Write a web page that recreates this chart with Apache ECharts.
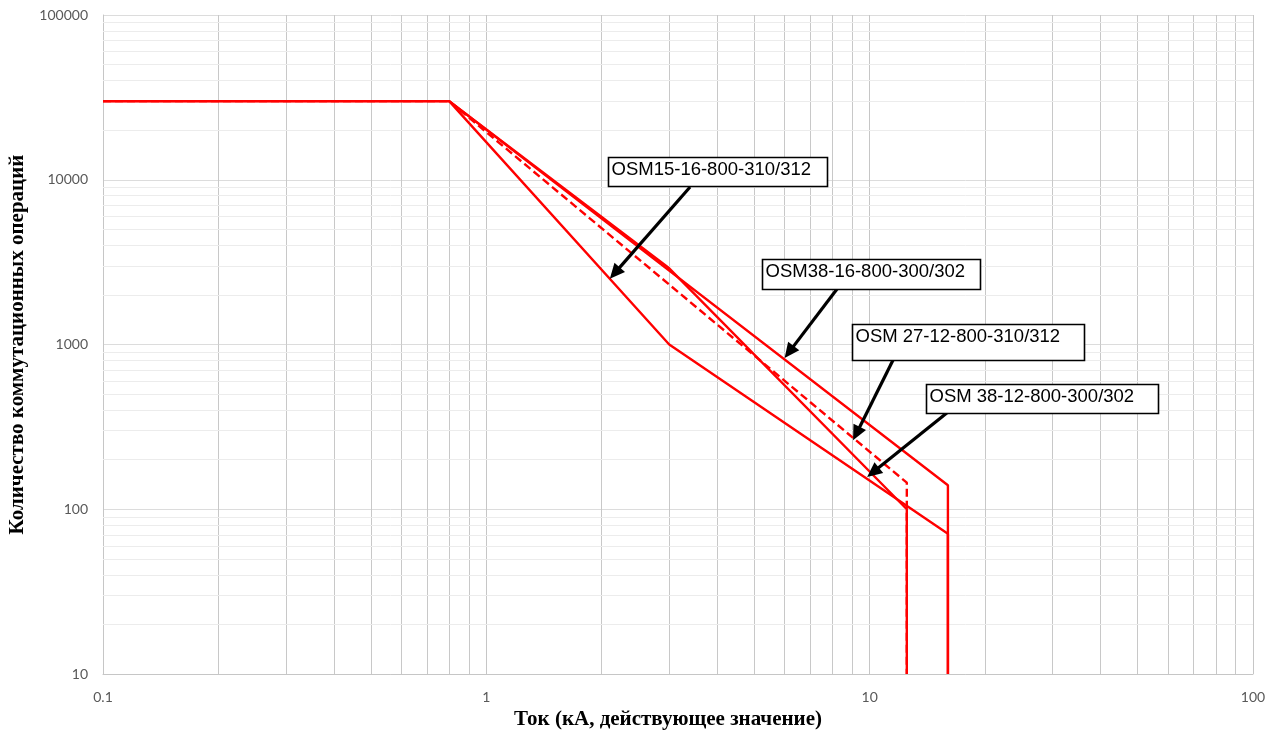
<!DOCTYPE html>
<html>
<head>
<meta charset="utf-8">
<script src="https://cdn.jsdelivr.net/npm/echarts@6/dist/echarts.min.js"></script>
<style>
html,body{margin:0;padding:0;background:#fff;}
#c{width:1278px;height:733px;}
</style>
</head>
<body>
<div id="c"></div>
<script>
// ---- data ----
const xTitle = 'Ток (кА, действующее значение)';
const yTitle = 'Количество коммутационных операций';

const osm15_16_x = [0.1, 0.8, 3, 16, 16];
const osm15_16_y = [30000, 30000, 1000, 71, 10];

const osm38_16_x = [0.1, 0.8, 16, 16];
const osm38_16_y = [30000, 30000, 140, 10];

const osm27_12_x = [0.1, 0.8, 12.5, 12.5];
const osm27_12_y = [30000, 30000, 145, 10];

const osm38_12_x = [0.1, 0.8, 3, 12.5, 12.5];
const osm38_12_y = [30000, 30000, 2900, 100, 10];

// annotation labels: text, arrow tip [x,y], arrow tail [x,y]
const annTexts = ['OSM15-16-800-310/312', 'OSM38-16-800-300/302', 'OSM 27-12-800-310/312', 'OSM 38-12-800-300/302'];
const annTips = [[2.1, 2510], [6, 828], [9.05, 262], [9.85, 157]];
const annTails = [[3.40, 9040], [8.22, 2173], [11.51, 805], [16.01, 389]];

const xMinorMultipliers = [2, 3, 4, 5, 6, 7, 8, 9];
const xDecades = [0.1, 1, 10];
const yDecades = [10, 100, 1000, 10000];

// ---- build ----
function pairs(xs, ys){ return xs.map((x,i)=>[x, ys[i]]); }
const xMinor = [], yMinor = [];
xDecades.forEach(d => xMinorMultipliers.forEach(m => xMinor.push(Number((d*m).toPrecision(6)))));
yDecades.forEach(d => xMinorMultipliers.forEach(m => yMinor.push(Number((d*m).toPrecision(6)))));

const chart = echarts.init(document.getElementById('c'), null, {renderer:'canvas'});
const labelFmt = v => String(Number(Number(v).toPrecision(6)));
const red = '#ff0000';

const option = {
  animation: false,
  backgroundColor: '#ffffff',
  grid: {left: 103, right: 25, top: 15, bottom: 59, containLabel: false, outerBoundsMode: 'none'},
  xAxis: {
    type: 'log', logBase: 10, min: 0.1, max: 100,
    name: xTitle, nameLocation: 'middle', nameGap: 33,
    nameTextStyle: {fontFamily: 'Liberation Serif', fontWeight: 'bold', fontSize: 21, color: '#000', padding:[0,20,0,0]},
    axisLine: {show: true, lineStyle: {color: '#c6c6c6', width: 1}},
    axisTick: {show: false},
    axisLabel: {formatter: labelFmt, fontFamily: 'Lato', fontSize: 14, color: '#595959', margin: 16},
    splitLine: {show: true, lineStyle: {color: '#c6c6c6', width: 1}},
    minorTick: {show: false}, minorSplitLine: {show: false}
  },
  yAxis: {
    type: 'log', logBase: 10, min: 10, max: 100000,
    name: yTitle, nameLocation: 'middle', nameGap: 75,
    nameTextStyle: {fontFamily: 'Liberation Serif', fontWeight: 'bold', fontSize: 21, color: '#000'},
    axisLine: {show: true, lineStyle: {color: '#c6c6c6', width: 1}},
    axisTick: {show: false},
    axisLabel: {formatter: labelFmt, fontFamily: 'Lato', fontSize: 14, color: '#595959', margin: 15},
    splitLine: {show: true, lineStyle: {color: '#dcdcdc', width: 1}}
  },
  series: [
    {
      type: 'line', data: [], z: 1, silent: true,
      markLine: {
        z: 1, silent: true, symbol: ['none','none'], animation: false,
        label: {show: false},
        data: xMinor.map(v => ({xAxis: v, lineStyle: {color: '#c8c8c8', width: 1, type: 'solid'}}))
          .concat(yMinor.map(v => ({yAxis: v, lineStyle: {color: '#ececec', width: 1, type: 'solid'}})))
      }
    },
    {name:'OSM15-16', type:'line', data: pairs(osm15_16_x, osm15_16_y), showSymbol:false, symbol:'none', lineStyle:{color:red, width:2.4}, z:6},
    {name:'OSM38-16', type:'line', data: pairs(osm38_16_x, osm38_16_y), showSymbol:false, symbol:'none', lineStyle:{color:red, width:2.4}, z:6},
    {name:'OSM27-12', type:'line', data: pairs(osm27_12_x, osm27_12_y), showSymbol:false, symbol:'none', lineStyle:{color:red, width:2.4, type:[8,4]}, z:6},
    {name:'OSM38-12', type:'line', data: pairs(osm38_12_x, osm38_12_y), showSymbol:false, symbol:'none', lineStyle:{color:red, width:2.4}, z:6}
  ]
};
chart.setOption(option);

// annotation boxes (layout offsets relative to arrow tail, in px)
const boxLayout = [
  {dx:-82, dy:-30, w:219, h:29},
  {dx:-75, dy:-30, w:218, h:30},
  {dx:-41, dy:-36, w:232, h:36},
  {dx:-22, dy:-28, w:232, h:29}
];
const graphics = [];
annTexts.forEach((t, i) => {
  const tip = chart.convertToPixel({xAxisIndex:0, yAxisIndex:0}, annTips[i]);
  const tail = chart.convertToPixel({xAxisIndex:0, yAxisIndex:0}, annTails[i]);
  const b = boxLayout[i];
  const bx = Math.round(tail[0] + b.dx) + 0.5, by = Math.round(tail[1] + b.dy) + 0.5;
  const dx = tip[0]-tail[0], dy = tip[1]-tail[1];
  const len = Math.sqrt(dx*dx+dy*dy);
  const ux = dx/len, uy = dy/len;
  const L = 15, W = 7;
  const baseX = tip[0]-ux*L, baseY = tip[1]-uy*L;
  graphics.push({type:'line', z:10, shape:{x1:tail[0], y1:tail[1], x2:baseX+ux*2, y2:baseY+uy*2}, style:{stroke:'#000', lineWidth:3.2}});
  graphics.push({type:'polygon', z:10, shape:{points:[[tip[0],tip[1]],[baseX - uy*W, baseY + ux*W],[baseX + uy*W, baseY - ux*W]]}, style:{fill:'#000'}});
  graphics.push({type:'rect', z:11, shape:{x:bx, y:by, width:b.w, height:b.h}, style:{fill:'#fff', stroke:'#000', lineWidth:1.6}});
  graphics.push({type:'text', z:12, x:bx+3, y:by+3, style:{text:t, fill:'#000', font:'18.5px "Liberation Sans", Arial, sans-serif', textVerticalAlign:'top', verticalAlign:'top'}});
});
chart.setOption({graphic: graphics});
</script>
</body>
</html>
